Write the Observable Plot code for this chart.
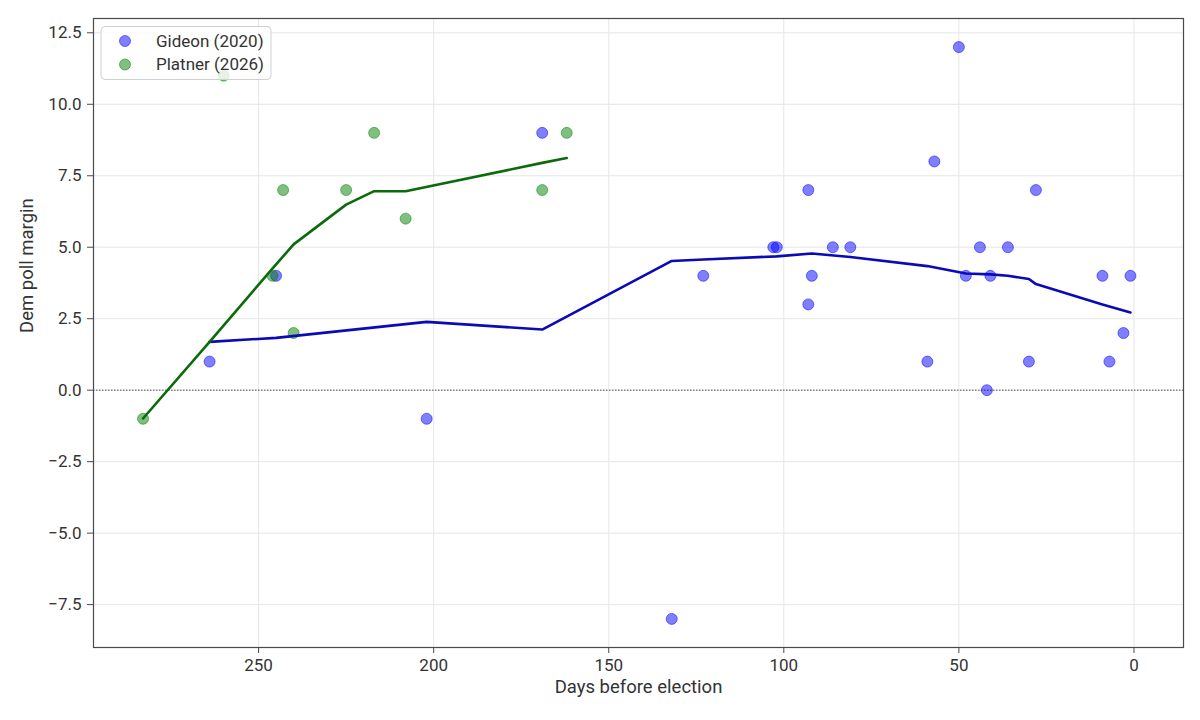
<!DOCTYPE html>
<html>
<head>
<meta charset="utf-8">
<script src="https://cdn.jsdelivr.net/npm/d3@7"></script>
<script src="https://cdn.jsdelivr.net/npm/@observablehq/plot@0.6"></script>
<style>
  html, body { margin: 0; padding: 0; background: #fff; }
  #chart { width: 1200px; height: 720px; }
</style>
</head>
<body>
<div id="chart"></div>
<script>
// Gideon (2020) polls: days before election, Dem margin
const gideonDays   = [264, 245, 202, 169, 132, 123, 103, 102, 93, 92, 93, 86, 81, 59, 57, 50, 48, 44, 42, 41, 36, 30, 28, 9, 7, 3, 1];
const gideonMargin = [1,   4,   -1,  9,   -8,  4,   5,   5,   7,  4,  3,  5,  5,  1,  8,  12, 4,  5,  0,  4,  5,  1,  7,  4, 1, 2, 4];

// Platner (2026) polls
const platnerDays   = [283, 260, 246, 243, 240, 225, 217, 208, 169, 162];
const platnerMargin = [-1,  11,  4,   7,   2,   7,   9,   6,   7,   9];

// Trend lines
const gideonTrendDays  = [264, 245, 202, 169, 132, 123, 102, 92, 81, 59, 48, 41, 36, 30, 28, 9, 1];
const gideonTrendValue = [1.69, 1.83, 2.39, 2.12, 4.52, 4.57, 4.68, 4.78, 4.66, 4.34, 4.08, 4.05, 4.00, 3.89, 3.71, 3.00, 2.72];
const platnerTrendDays  = [283, 264, 246, 240, 225, 217, 208, 169, 162];
const platnerTrendValue = [-0.99, 1.69, 4.26, 5.10, 6.49, 6.96, 6.96, 7.95, 8.12];

// Axis ticks
const xTicks = [0, 50, 100, 150, 200, 250];
const yTicks = [-7.5, -5.0, -2.5, 0.0, 2.5, 5.0, 7.5, 10.0, 12.5];

const seriesNames = ["Gideon (2020)", "Platner (2026)"];
const pointColors = ["blue", "green"];
const lineColors = ["#0a0ab8", "#0b6b0b"];

const gideon = gideonDays.map((d, i) => ({day: d, margin: gideonMargin[i]}));
const platner = platnerDays.map((d, i) => ({day: d, margin: platnerMargin[i]}));
const gideonTrend = gideonTrendDays.map((d, i) => ({day: d, margin: gideonTrendValue[i]}));
const platnerTrend = platnerTrendDays.map((d, i) => ({day: d, margin: platnerTrendValue[i]}));

const FONT = "Roboto, 'Open Sans', sans-serif";

const chart = Plot.plot({
  width: 1200,
  height: 720,
  marginLeft: 93,
  marginRight: 17,
  marginTop: 18,
  marginBottom: 73,
  style: {fontFamily: FONT, fontSize: "17px", color: "#333", background: "#fff"},
  x: {domain: [297.15, -14.15]},
  y: {domain: [-9, 13]},
  marks: [
    Plot.gridX(xTicks, {stroke: "#e6e6e6", strokeOpacity: 1, strokeWidth: 1}),
    Plot.gridY(yTicks, {stroke: "#e6e6e6", strokeOpacity: 1, strokeWidth: 1}),
    Plot.ruleY([0], {stroke: "#555", strokeWidth: 1, strokeDasharray: "1.5,1.5"}),
    Plot.dot(gideon, {x: "day", y: "margin", r: 5.5, fill: pointColors[0], fillOpacity: 0.5, stroke: pointColors[0], strokeOpacity: 0.5, strokeWidth: 1}),
    Plot.dot(platner, {x: "day", y: "margin", r: 5.5, fill: pointColors[1], fillOpacity: 0.5, stroke: pointColors[1], strokeOpacity: 0.5, strokeWidth: 1}),
    Plot.line(gideonTrend, {x: "day", y: "margin", stroke: lineColors[0], strokeWidth: 2.6}),
    Plot.line(platnerTrend, {x: "day", y: "margin", stroke: lineColors[1], strokeWidth: 2.6}),
    Plot.frame({stroke: "#4a4a4a", strokeWidth: 1.2}),
    Plot.axisX({ticks: xTicks, tickFormat: d => String(d), tickSize: 6, tickPadding: 5, stroke: "#4a4a4a", label: null}),
    Plot.axisY({ticks: yTicks, tickFormat: d => d.toFixed(1).replace("-", "\u2212"), tickSize: 6, tickPadding: 6, stroke: "#4a4a4a", label: null}),
    Plot.text(["Days before election"], {frameAnchor: "bottom", dy: 45, fontSize: 18.5, fill: "#333", text: d => d}),
    Plot.text(["Dem poll margin"], {frameAnchor: "left", dx: -66, rotate: -90, fontSize: 18.5, fill: "#333", text: d => d})
  ]
});

document.getElementById("chart").appendChild(chart);

// Legend drawn inside the plot area (upper left), like matplotlib
const svg = d3.select(chart);
const lg = svg.append("g").attr("font-family", FONT).attr("font-size", 17).attr("text-anchor", "start");
lg.append("rect")
  .attr("x", 101).attr("y", 26.5).attr("width", 170).attr("height", 53)
  .attr("rx", 4).attr("ry", 4)
  .attr("fill", "#fff").attr("fill-opacity", 0.8)
  .attr("stroke", "#d0d0d0").attr("stroke-width", 1);
seriesNames.forEach((name, i) => {
  const cy = 41 + i * 23.5;
  lg.append("circle").attr("cx", 125).attr("cy", cy).attr("r", 5.5)
    .attr("fill", pointColors[i]).attr("fill-opacity", 0.5)
    .attr("stroke", pointColors[i]).attr("stroke-opacity", 0.5);
  lg.append("text").attr("x", 156).attr("y", cy).attr("dy", "0.35em")
    .attr("text-anchor", "start")
    .attr("fill", "#333").text(name);
});
</script>
</body>
</html>
